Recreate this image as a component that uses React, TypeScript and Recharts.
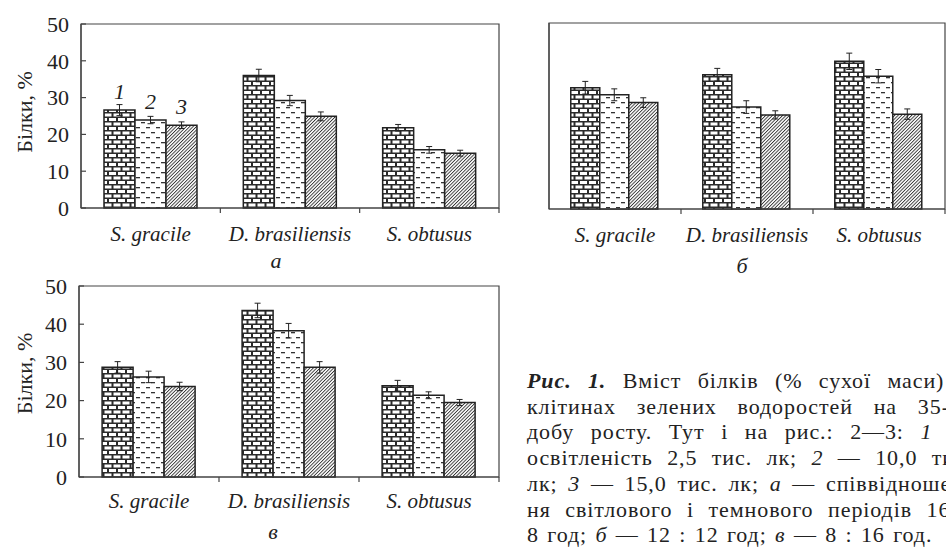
import React from "react";
import { BarChart, Bar, XAxis, YAxis, ErrorBar, LabelList, ReferenceArea, Label } from "recharts";

/* ---------------- data ---------------- */

const categories = ["S. gracile", "D. brasiliensis", "S. obtusus"];
const seriesNames = ["1", "2", "3"]; // 2,5 / 10,0 / 15,0 тис. лк
const yTicks = [0, 10, 20, 30, 40, 50];

// а — 16 : 8 год
const a1 = [26.6, 36.0, 21.8];
const a1Err = [1.5, 1.7, 0.9];
const a2 = [23.9, 29.2, 15.8];
const a2Err = [1.0, 1.4, 0.9];
const a3 = [22.5, 24.9, 14.9];
const a3Err = [0.9, 1.2, 0.8];

// б — 12 : 12 год
const b1 = [32.6, 36.1, 39.7];
const b1Err = [1.7, 1.7, 2.2];
const b2 = [30.7, 27.4, 35.7];
const b2Err = [1.6, 1.7, 1.8];
const b3 = [28.6, 25.3, 25.5];
const b3Err = [1.3, 1.1, 1.4];

// в — 8 : 16 год
const v1 = [28.7, 43.6, 23.9];
const v1Err = [1.5, 1.9, 1.4];
const v2 = [26.2, 38.3, 21.4];
const v2Err = [1.5, 1.9, 0.9];
const v3 = [23.7, 28.7, 19.5];
const v3Err = [1.1, 1.5, 0.8];

/* ---------------- style ---------------- */

const FONT = '"Liberation Serif", Tinos, "Times New Roman", "Noto Serif", "DejaVu Serif", FreeSerif, serif';
const INK = "#222";
const AXIS = "#444";

const rows = (
  s1: number[], e1: number[], s2: number[], e2: number[], s3: number[], e3: number[],
) => categories.map((name, i) => ({
  name, v1: s1[i], e1: e1[i], v2: s2[i], e2: e2[i], v3: s3[i], e3: e3[i],
}));

const dataA = rows(a1, a1Err, a2, a2Err, a3, a3Err);
const dataB = rows(b1, b1Err, b2, b2Err, b3, b3Err);
const dataV = rows(v1, v1Err, v2, v2Err, v3, v3Err);

/* ---------------- fills ---------------- */

const Patterns = ({ id }: { id: string }) => (
  <defs>
    <pattern id={`${id}-brick`} width={18} height={9} patternUnits="userSpaceOnUse">
      <rect width={18} height={9} fill="#2b2b2b" />
      <rect x={1} y={1} width={7} height={3} fill="#fff" />
      <rect x={10} y={1} width={7} height={3} fill="#fff" />
      <rect x={0} y={5.5} width={3.5} height={3} fill="#fff" />
      <rect x={5.5} y={5.5} width={7} height={3} fill="#fff" />
      <rect x={14.5} y={5.5} width={3.5} height={3} fill="#fff" />
    </pattern>
    <pattern id={`${id}-dash`} width={10} height={10} patternUnits="userSpaceOnUse">
      <rect width={10} height={10} fill="#fff" />
      <rect x={1} y={2} width={4} height={1.3} fill="#333" />
      <rect x={6} y={7} width={4} height={1.3} fill="#333" />
    </pattern>
    <pattern id={`${id}-hatch`} width={2.4} height={2.4} patternUnits="userSpaceOnUse" patternTransform="rotate(45)">
      <rect width={2.4} height={2.4} fill="#fff" />
      <rect width={0.9} height={2.4} fill="#333" />
    </pattern>
  </defs>
);

/* ---------------- axis pieces ---------------- */

// category label + tick mark at the right edge of each band
const CatTick = (props: any) => {
  const { x, y, payload, width, visibleTicksCount, dy } = props;
  const half = payload?.offset ?? width / (visibleTicksCount || 3) / 2;
  const edge = x + half;
  return (
    <g>
      <line x1={edge} x2={edge} y1={y} y2={y + 5} stroke={AXIS} strokeWidth={1.2} />
      <text x={x} y={y + dy} textAnchor="middle" fontFamily={FONT} fontStyle="italic" fontSize={21} fill={INK}>
        {payload.value}
      </text>
    </g>
  );
};

const YTitle = ({ viewBox, dy }: any) => {
  if (!viewBox) return null;
  const cx = viewBox.x + 32;
  const cy = viewBox.y + viewBox.height / 2 + dy;
  return (
    <text x={cx} y={cy} transform={`rotate(-90, ${cx}, ${cy})`} textAnchor="middle"
      fontFamily={FONT} fontSize={22} fill={INK}>
      Білки, %
    </text>
  );
};

const PanelLetter = ({ viewBox, letter, dx, dy }: any) => {
  if (!viewBox) return null;
  return (
    <text x={viewBox.x + viewBox.width / 2 + dx} y={viewBox.y + dy} textAnchor="middle"
      fontFamily={FONT} fontStyle="italic" fontSize={22} fill={INK}>
      {letter}
    </text>
  );
};

const numberLabel = (name: string) => (props: any) => {
  if (props.index !== 0) return null;
  const vb = props.viewBox ?? props;
  return (
    <text x={vb.x + vb.width / 2} y={vb.y - 11} textAnchor="middle"
      fontFamily={FONT} fontStyle="italic" fontSize={22} fill={INK}>
      {name}
    </text>
  );
};

/* ---------------- one panel ---------------- */

interface PanelProps {
  id: string;
  data: any[];
  left: number; top: number; width: number; height: number;
  marginTop: number; marginRight: number;
  yAxisWidth: number; xAxisHeight: number;
  showY: boolean;
  letter: string; letterDx: number; letterDy: number;
  catDy: number; titleDy?: number;
  numbered?: boolean;
}

const Panel = (p: PanelProps) => (
  <div style={{ position: "absolute", left: p.left, top: p.top }}>
    <BarChart width={p.width} height={p.height} data={p.data}
      margin={{ top: p.marginTop, right: p.marginRight, bottom: 0, left: 0 }}
      barCategoryGap="16.5%" barGap={0}>
      <Patterns id={p.id} />
      <XAxis dataKey="name" interval={0} height={p.xAxisHeight}
        tickLine={false} tickSize={0} tickMargin={0}
        axisLine={{ stroke: AXIS, strokeWidth: 1.2 }}
        tick={(t: any) => <CatTick {...t} dy={p.catDy} />}>
        <Label content={(l: any) => <PanelLetter viewBox={l.viewBox} letter={p.letter} dx={p.letterDx} dy={p.letterDy} />} />
      </XAxis>
      <YAxis type="number" domain={[0, 50]} ticks={yTicks} width={p.yAxisWidth}
        tickSize={-5} tickMargin={17}
        axisLine={{ stroke: AXIS, strokeWidth: 1.2 }}
        tickLine={{ stroke: AXIS, strokeWidth: 1.2 }}
        tick={p.showY ? { fontFamily: FONT, fontSize: 22, fill: INK } : false}>
        {p.showY && <Label content={(l: any) => <YTitle viewBox={l.viewBox} dy={p.titleDy ?? 0} />} />}
      </YAxis>
      <ReferenceArea y1={0} y2={50} fill="none" stroke={AXIS} strokeWidth={1.2} />
      <Bar dataKey="v1" fill={`url(#${p.id}-brick)`} stroke={INK} strokeWidth={1.5} isAnimationActive={false}>
        <ErrorBar dataKey="e1" width={3} stroke={INK} strokeWidth={1} />
        {p.numbered && <LabelList dataKey="v1" content={numberLabel(seriesNames[0])} />}
      </Bar>
      <Bar dataKey="v2" fill={`url(#${p.id}-dash)`} stroke={INK} strokeWidth={1.5} isAnimationActive={false}>
        <ErrorBar dataKey="e2" width={3} stroke={INK} strokeWidth={1} />
        {p.numbered && <LabelList dataKey="v2" content={numberLabel(seriesNames[1])} />}
      </Bar>
      <Bar dataKey="v3" fill={`url(#${p.id}-hatch)`} stroke={INK} strokeWidth={1.5} isAnimationActive={false}>
        <ErrorBar dataKey="e3" width={3} stroke={INK} strokeWidth={1} />
        {p.numbered && <LabelList dataKey="v3" content={numberLabel(seriesNames[2])} />}
      </Bar>
    </BarChart>
  </div>
);

/* ---------------- caption ---------------- */

const captionLines: React.ReactNode[] = [
  <><b><i>Рис. 1.</i></b> Вміст білків (% сухої маси) в</>,
  <>клітинах зелених водоростей на 35-ту</>,
  <>добу росту. Тут і на рис.: 2—3: <i>1</i> —</>,
  <>освітленість 2,5 тис. лк; <i>2</i> — 10,0 тис.</>,
  <>лк; <i>3</i> — 15,0 тис. лк; <i>а</i> — співвідношен-</>,
  <>ня світлового і темнового періодів 16 :</>,
  <>8 год; <i>б</i> — 12 : 12 год; <i>в</i> — 8 : 16 год.</>,
];

const Caption = () => (
  <div style={{
    position: "absolute", left: 527, top: 368, fontFamily: FONT, fontSize: 22, color: INK,
    lineHeight: "25.7px", letterSpacing: "0.9px", wordSpacing: "2px",
  }}>
    {captionLines.map((line, i) => (
      <div key={i} style={{
        width: 445, whiteSpace: "nowrap",
        textAlign: i < captionLines.length - 1 ? "justify" : "left",
        textAlignLast: i < captionLines.length - 1 ? "justify" : "left",
      }}>
        {line}
      </div>
    ))}
  </div>
);

export default function App() {
  return (
    <div style={{ position: "absolute", left: 0, top: 0, width: 946, height: 547, overflow: "hidden", background: "#fff" }}>
      <Panel id="pa" data={dataA} left={0} top={0} width={510} height={285}
        marginTop={24} marginRight={11} yAxisWidth={81} xAxisHeight={77}
        showY letter="а" letterDx={-14} letterDy={60} catDy={33} titleDy={-4} numbered />
      <Panel id="pb" data={dataB} left={480} top={0} width={466} height={285}
        marginTop={23} marginRight={1} yAxisWidth={69} xAxisHeight={76}
        showY={false} letter="б" letterDx={-5} letterDy={64} catDy={33} />
      <Panel id="pv" data={dataV} left={0} top={270} width={510} height={277}
        marginTop={16} marginRight={11} yAxisWidth={79} xAxisHeight={70}
        showY letter="в" letterDx={-16} letterDy={62} catDy={31} titleDy={-8} />
      <Caption />
    </div>
  );
}
